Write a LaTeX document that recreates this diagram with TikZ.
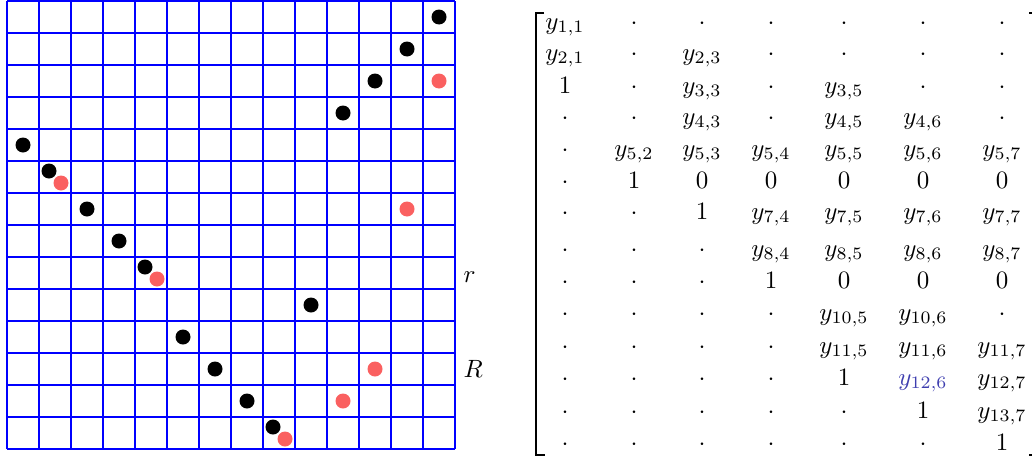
\documentclass[tikz,border=0pt]{standalone}
\usepackage{xcolor}
\definecolor{gridblue}{RGB}{0,0,255}
\definecolor{dotred}{RGB}{250,96,96}
\definecolor{entblue}{RGB}{62,62,175}
\begin{document}
\begin{tikzpicture}[x=0.4pt,y=-0.4pt,
  gridline/.style={gridblue,line width=0.5pt},
  bdot/.style={circle,fill=black,inner sep=0pt,minimum size=6pt},
  rdot/.style={circle,fill=dotred,inner sep=0pt,minimum size=6pt},
  ent/.style={anchor=base,inner sep=0pt},
  lbl/.style={anchor=base west,inner sep=0pt},
  brack/.style={line width=0.5pt}]
\useasboundingbox (0,0) rectangle (1032,460);
\clip (0,0) rectangle (1032,460);
% grid
\foreach \i in {0,...,14}{
  \draw[gridline] ({7+32*\i},1) -- ({7+32*\i},449);
  \draw[gridline] (7,{1+32*\i}) -- (455,{1+32*\i});
}
% black dots at cell centres
\foreach \c/\r [count=\k] in {13/0,12/1,11/2,10/3,0/4,2/6,3/7,9/9,5/10,6/11,7/12}{
  \node[bdot] (b\k) at ({23+32*\c},{17+32*\r}) {};
}
% red dots at cell centres
\foreach \c/\r [count=\k] in {13/2,12/6,11/11,10/12}{
  \node[rdot] (r\k) at ({23+32*\c},{17+32*\r}) {};
}
% shared cells: black up-left, red down-right
\foreach \c/\r [count=\k] in {1/5,4/8,8/13}{
  \node[bdot] (bs\k) at ({23+32*\c-6},{17+32*\r-6}) {};
  \node[rdot] (rs\k) at ({23+32*\c+6},{17+32*\r+6}) {};
}
% labels
\node[lbl] (lr) at (463,282) {$r$};
\node[lbl] (lR) at (463,377) {$R$};
% brackets
\draw[brack] (544,13) -- (536,13) -- (536,455) -- (545,455);
\draw[brack] (1029,13) -- (1037,13) -- (1037,455) -- (1029,455);
% matrix entries
\def\colx{{565,634,702,771,844,923,1002}}
\def\rowy{{29,60,93,124,156,188,219,256,288,320,353,385,418,450}}
\newcommand\mrow[2]{%
  \foreach \e [count=\c] in {#2}{%
    \pgfmathsetmacro\xx{\colx[\c-1]}%
    \pgfmathsetmacro\yy{\rowy[#1-1]}%
    \node[ent] (m-#1-\c) at (\xx,\yy) {$\e$};
  }}
\mrow{1}{{y_{1,1}},\cdot,\cdot,\cdot,\cdot,\cdot,\cdot}
\mrow{2}{{y_{2,1}},\cdot,{y_{2,3}},\cdot,\cdot,\cdot,\cdot}
\mrow{3}{1,\cdot,{y_{3,3}},\cdot,{y_{3,5}},\cdot,\cdot}
\mrow{4}{\cdot,\cdot,{y_{4,3}},\cdot,{y_{4,5}},{y_{4,6}},\cdot}
\mrow{5}{\cdot,{y_{5,2}},{y_{5,3}},{y_{5,4}},{y_{5,5}},{y_{5,6}},{y_{5,7}}}
\mrow{6}{\cdot,1,0,0,0,0,0}
\mrow{7}{\cdot,\cdot,1,{y_{7,4}},{y_{7,5}},{y_{7,6}},{y_{7,7}}}
\mrow{8}{\cdot,\cdot,\cdot,{y_{8,4}},{y_{8,5}},{y_{8,6}},{y_{8,7}}}
\mrow{9}{\cdot,\cdot,\cdot,1,0,0,0}
\mrow{10}{\cdot,\cdot,\cdot,\cdot,{y_{10,5}},{y_{10,6}},\cdot}
\mrow{11}{\cdot,\cdot,\cdot,\cdot,{y_{11,5}},{y_{11,6}},{y_{11,7}}}
\mrow{12}{\cdot,\cdot,\cdot,\cdot,1,{\textcolor{entblue}{y_{12,6}}},{y_{12,7}}}
\mrow{13}{\cdot,\cdot,\cdot,\cdot,\cdot,1,{y_{13,7}}}
\mrow{14}{\cdot,\cdot,\cdot,\cdot,\cdot,\cdot,1}
\end{tikzpicture}
\end{document}
